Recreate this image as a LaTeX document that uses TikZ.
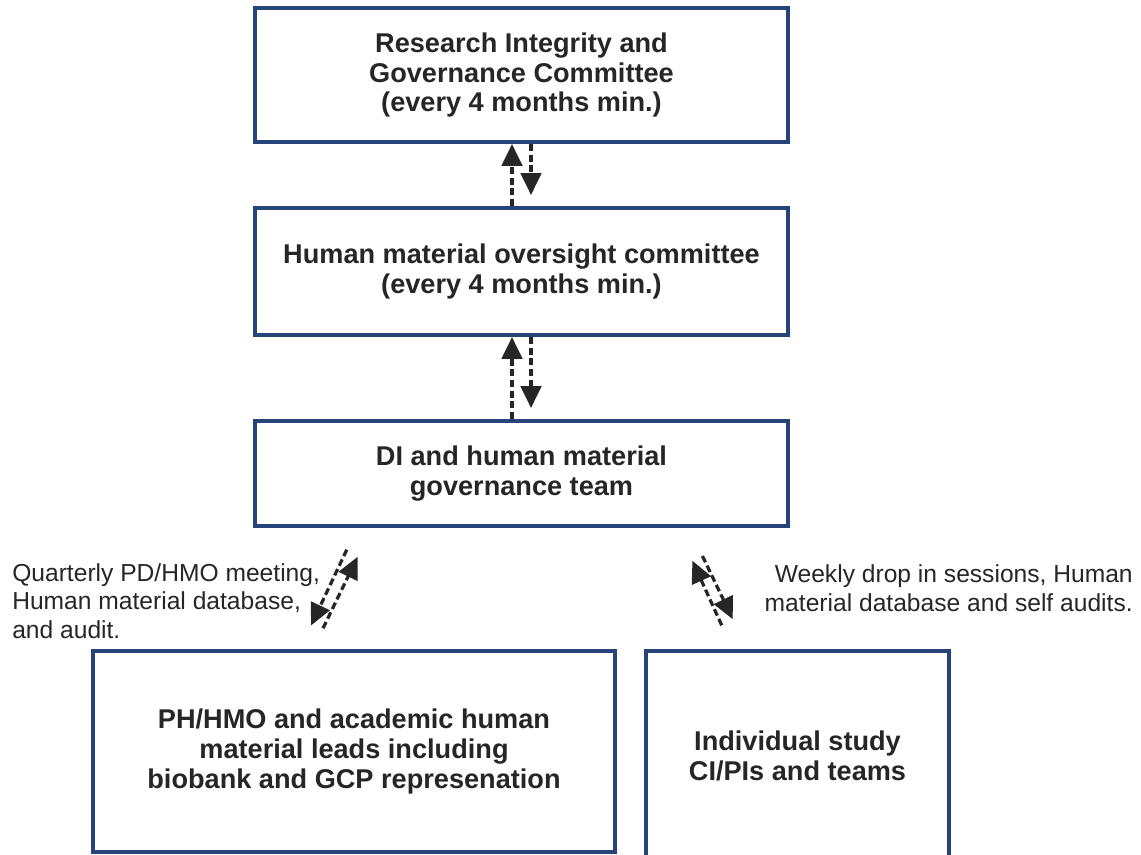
\documentclass[tikz,border=0pt]{standalone}
\usepackage{fontspec}
\setmainfont{Liberation Sans}
\usepackage{xcolor}
\usepackage{tikz}
\usetikzlibrary{arrows.meta,calc}
\definecolor{boxblue}{RGB}{38,68,120}
\definecolor{inkgray}{RGB}{38,38,38}

\begin{document}
\begin{tikzpicture}[x=0.025cm,y=-0.025cm,
    govbox/.style={draw=boxblue,line width=2.85pt,fill=white,align=center,text=inkgray,
      font=\fontsize{19.3}{21.3}\selectfont\bfseries,inner sep=0pt},
    flow/.style={draw=inkgray,line width=2.3pt,dash pattern=on 5pt off 2.6pt,
      -{Triangle[length=15.5pt,width=14.5pt]}},
    note/.style={text=inkgray,font=\fontsize{17.5}{20.3}\selectfont,inner sep=0pt}]
    \def\px{0.7113pt}
    \useasboundingbox (0,0) rectangle (1141,854);
    \clip (0,0) rectangle (1141,854);
    % Committees
    \node[govbox,minimum width=533*\px,minimum height=134*\px] (ric) at (521.5,75)
      {Research Integrity and\\Governance Committee\\(every 4 months min.)};
    \node[govbox,minimum width=533*\px,minimum height=127*\px] (hmoc) at (521.5,271.5)
      {Human material oversight committee\\(every 4 months min.)};
    \node[govbox,minimum width=533*\px,minimum height=105*\px] (digov) at (521.5,473.5)
      {DI and human material\\governance team};
    % Bottom row (runs off the page)
    \node[govbox,minimum width=522*\px,minimum height=201*\px] (phlead) at (354,751.5)
      {PH/HMO and academic human\\material leads including\\biobank and GCP represenation};
    \node[govbox,minimum width=303*\px,minimum height=209*\px] (studies) at (797.5,755.5)
      {Individual study\\CI/PIs and teams};
    % Up and down between committees
    \draw[flow] ($(hmoc.north)+(-9.5,0)$) -- ($(ric.south)+(-9.5,0)$);
    \draw[flow,shorten >=11*\px] ($(ric.south)+(9.5,0)$) -- ($(hmoc.north)+(9.5,0)$);
    \draw[flow] ($(digov.north)+(-9.5,0)$) -- ($(hmoc.south)+(-9.5,0)$);
    \draw[flow,shorten >=11*\px] ($(hmoc.south)+(9.5,0)$) -- ($(digov.north)+(9.5,0)$);
    % Diagonal links to the leads
    \draw[flow,shorten <=24*\px,shorten >=26*\px] ($(digov.south)+(-164.5,0)$) -- ($(phlead.north)+(-54,0)$);
    \draw[flow,shorten <=23*\px,shorten >=32*\px] ($(phlead.north)+(-41,0)$) -- ($(digov.south)+(-150,0)$);
    % Diagonal links to the studies
    \draw[flow,shorten <=31*\px,shorten >=33*\px] ($(digov.south)+(167.5,0)$) -- ($(studies.north)+(-50.5,0)$);
    \draw[flow,shorten <=26*\px,shorten >=36*\px] ($(studies.north)+(-65,0)$) -- ($(digov.south)+(156,0)$);
    % Labels
    \node[note,anchor=west,align=left] (qnote) at (12,601)
      {Quarterly PD/HMO meeting,\\Human material database,\\and audit.};
    \node[note,anchor=east,align=right] (wnote) at (1133,588)
      {Weekly drop in sessions, Human\\material database and self audits.};
\end{tikzpicture}
\end{document}
